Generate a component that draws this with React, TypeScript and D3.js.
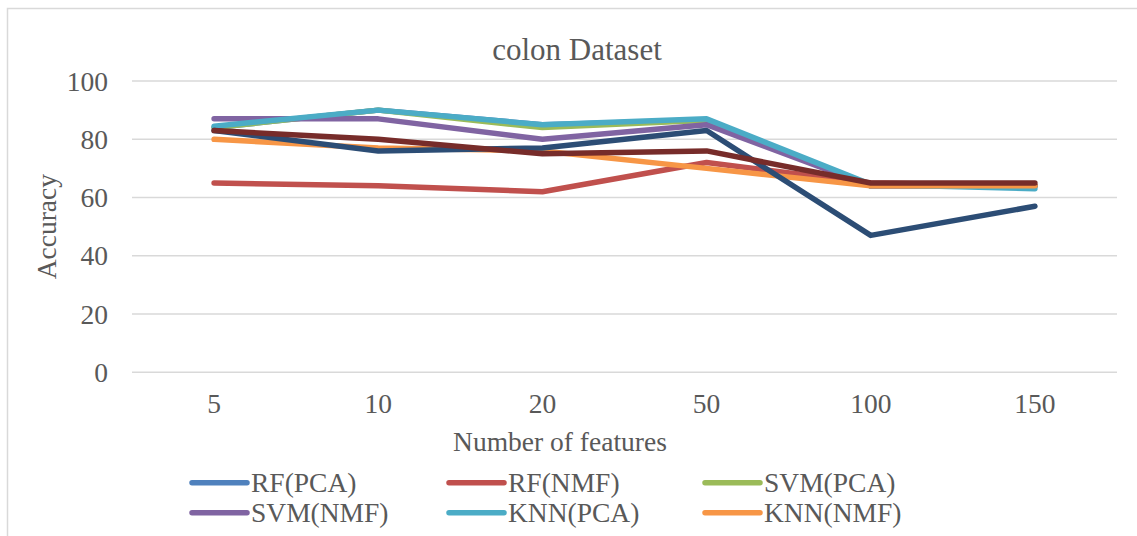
import React from "react";
import * as d3 from "d3";

const categories = ["5", "10", "20", "50", "100", "150"];
const yTicks = [0, 20, 40, 60, 80, 100];

const seriesNames = ["RF(PCA)", "RF(NMF)", "SVM(PCA)", "SVM(NMF)", "KNN(PCA)", "KNN(NMF)", "Series 7", "Series 8"];
const seriesColors = ["#4F81BD", "#C0504D", "#9BBB59", "#8064A2", "#4BACC6", "#F79646", "#2C4D75", "#772C2A"];

const rfPCA = [84, 90, 85, 86.5, 64, 64];
const rfNMF = [65, 64, 62, 72, 65, 64];
const svmPCA = [84, 90, 84, 86.5, 64, 64];
const svmNMF = [87, 87, 80, 85, 64, 64];
const knnPCA = [84.5, 90, 85, 87, 64.5, 63];
const knnNMF = [80, 77, 76, 70, 64, 64];
const series7 = [83, 76, 77, 83, 47, 57];
const series8 = [83, 80, 75, 76, 65, 65];

const seriesValues = [rfPCA, rfNMF, svmPCA, svmNMF, knnPCA, knnNMF, series7, series8];
const legendShown = 6;

const W = 1137;
const H = 536;
const plotLeft = 132;
const plotRight = 1117;
const plotTop = 81;
const plotBottom = 372.3;
const textColor = "#595959";
const font = "Liberation Serif, Times New Roman, DejaVu Serif, serif";
const ts = { fontFamily: font };

export default function App() {
  const x = d3.scaleBand<string>().domain(categories).range([plotLeft, plotRight]);
  const y = d3.scaleLinear().domain([0, 100]).range([plotBottom, plotTop]);
  const line = d3
    .line<number>()
    .x((_, i) => (x(categories[i]) as number) + x.bandwidth() / 2)
    .y((d) => y(d));

  const legendCols = [192, 449, 705];
  const legendRows = [482.7, 512.7];

  return (
    <svg
      width={W}
      height={H}
      style={{ position: "absolute", left: 0, top: 0, background: "#fff", fontFamily: font }}
    >
      <rect x={7.5} y={8.5} width={1160} height={600} fill="#fff" stroke="#d9d9d9" strokeWidth={1.5} />
      <text x={577} y={60} textAnchor="middle" fontSize={31} fill={textColor} style={ts}>
        colon Dataset
      </text>
      {yTicks.map((t) => (
        <g key={t}>
          <line x1={plotLeft} x2={plotRight} y1={y(t)} y2={y(t)} stroke="#d9d9d9" strokeWidth={1.5} />
          <text x={108} y={y(t) + 9.5} textAnchor="end" fontSize={27.5} fill={textColor} style={ts}>
            {t}
          </text>
        </g>
      ))}
      {categories.map((c) => (
        <text
          key={c}
          x={(x(c) as number) + x.bandwidth() / 2}
          y={413}
          textAnchor="middle"
          fontSize={27.5}
          fill={textColor}
          style={ts}
        >
          {c}
        </text>
      ))}
      <text x={560} y={451} textAnchor="middle" fontSize={27.5} fill={textColor} style={ts}>
        Number of features
      </text>
      <text
        transform={`translate(56, ${(plotTop + plotBottom) / 2}) rotate(-90)`}
        textAnchor="middle"
        fontSize={27.5}
        fill={textColor}
        style={ts}
      >
        Accuracy
      </text>
      {seriesValues.map((vals, i) => (
        <path
          key={seriesNames[i]}
          d={line(vals) as string}
          fill="none"
          stroke={seriesColors[i]}
          strokeWidth={5.5}
          strokeLinecap="round"
          strokeLinejoin="round"
        />
      ))}
      {seriesNames.slice(0, legendShown).map((name, i) => {
        const cx = legendCols[i % 3];
        const cy = legendRows[Math.floor(i / 3)];
        return (
          <g key={name}>
            <line x1={cx} x2={cx + 55} y1={cy} y2={cy} stroke={seriesColors[i]} strokeWidth={5.5} strokeLinecap="round" />
            <text x={cx + 59} y={cy + 9} fontSize={27.5} fill={textColor} style={ts}>
              {name}
            </text>
          </g>
        );
      })}
    </svg>
  );
}
